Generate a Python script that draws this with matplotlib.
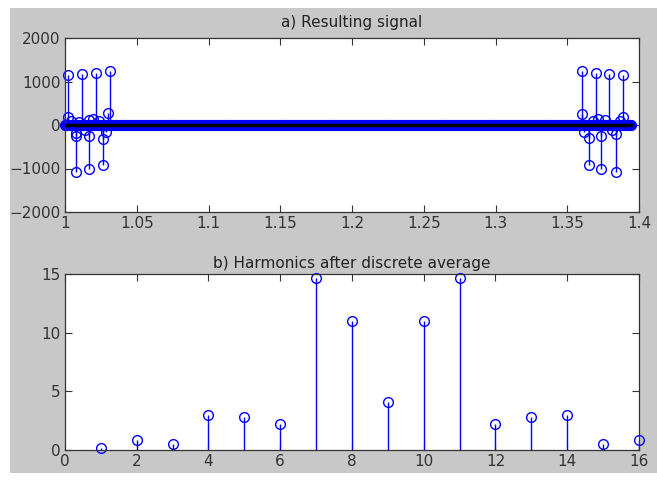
import matplotlib.pyplot as plt
import numpy as np
from matplotlib.patches import Rectangle

plt.rcParams['font.family'] = ['DejaVu Sans']
plt.rcParams['xtick.direction'] = 'in'
plt.rcParams['ytick.direction'] = 'in'

# a) resulting signal: the large spikes near both ends
spike_t = [1.0021, 1.0022, 1.0045, 1.0074, 1.0076, 1.0078, 1.0100, 1.0118, 1.0140,
           1.0165, 1.0167, 1.0170, 1.0195, 1.0215, 1.0240, 1.0262, 1.0264, 1.0285,
           1.0300, 1.03125,
           1.3604, 1.3606, 1.3620, 1.3651, 1.3653, 1.3680, 1.3701, 1.3715, 1.3734,
           1.3736, 1.3760, 1.3792, 1.3810, 1.3838, 1.3840, 1.3865, 1.3886, 1.3889]
spike_v = [180, 1140, 90, -190, -1070, -260, 80, 1180, -120,
           -250, -1000, 120, 140, 1200, 100, -320, -910, -150,
           270, 1230,
           260, 1230, -150, -300, -910, 100, 1200, 140, -250,
           -1000, 120, 1180, -120, -200, -1090, 90, 180, 1140]
# low-level part of the signal (sample times, values ~0)
band_t = np.arange(1.0, 1.3945, 0.0005)
band_v = np.zeros(len(band_t))

# b) harmonics after discrete average
harm_n = [1, 2, 3, 4, 5, 6, 7, 8, 9, 10, 11, 12, 13, 14, 15, 16]
harm_v = [0.2, 0.86, 0.5, 3.0, 2.8, 2.2, 14.65, 11.0, 4.1, 11.0, 14.65, 2.2, 2.8, 3.0, 0.5, 0.86]

t = np.concatenate([band_t, spike_t])
v = np.concatenate([band_v, spike_v])
order = np.argsort(t)
t = t[order]
v = v[order]

fig = plt.figure(figsize=(6.57, 4.83), dpi=100, facecolor='white')
fig.patches.append(Rectangle((10 / 657, 10 / 483), 647 / 657, 465 / 483,
                             transform=fig.transFigure, facecolor='#c8c8c8',
                             edgecolor='none', zorder=-10))

ax1 = fig.add_axes([65 / 657, 271 / 483, 574 / 657, 174 / 483])
ax2 = fig.add_axes([65 / 657, 33 / 483, 574 / 657, 176 / 483])

blue = '#0000ff'
m, s, b = ax1.stem(t, v, linefmt='-', markerfmt='o', basefmt='k-')
plt.setp(s, color=blue, linewidth=1)
plt.setp(m, markerfacecolor='none', markeredgecolor=blue, markersize=7, markeredgewidth=1, clip_on=False)
plt.setp(b, color='black', linewidth=2.5, zorder=4)
ax1.set_xlim(1, 1.4)
ax1.set_ylim(-2000, 2000)
ax1.set_xticks([1, 1.05, 1.1, 1.15, 1.2, 1.25, 1.3, 1.35, 1.4])
ax1.set_xticklabels(['1', '1.05', '1.1', '1.15', '1.2', '1.25', '1.3', '1.35', '1.4'])
ax1.set_yticks([-2000, -1000, 0, 1000, 2000])
ax1.set_title('a) Resulting signal', fontsize=11, color='#222222', pad=8)

m, s, b = ax2.stem(harm_n, harm_v, linefmt='-', markerfmt='o', basefmt=' ')
plt.setp(s, color=blue, linewidth=1)
plt.setp(m, markerfacecolor='none', markeredgecolor=blue, markersize=7, markeredgewidth=1, clip_on=False)
ax2.set_xlim(0, 16)
ax2.set_ylim(0, 15)
ax2.set_xticks(range(0, 17, 2))
ax2.set_yticks([0, 5, 10, 15])
ax2.set_title('b) Harmonics after discrete average', fontsize=11, color='#222222', pad=4)

for ax in (ax1, ax2):
    ax.tick_params(top=True, right=True, length=5, width=0.8, labelsize=11,
                   colors='#333333', pad=3)
    for sp in ax.spines.values():
        sp.set_color('#333333')
        sp.set_linewidth(0.9)

fig.savefig('out.png', dpi=100, facecolor=fig.get_facecolor())
